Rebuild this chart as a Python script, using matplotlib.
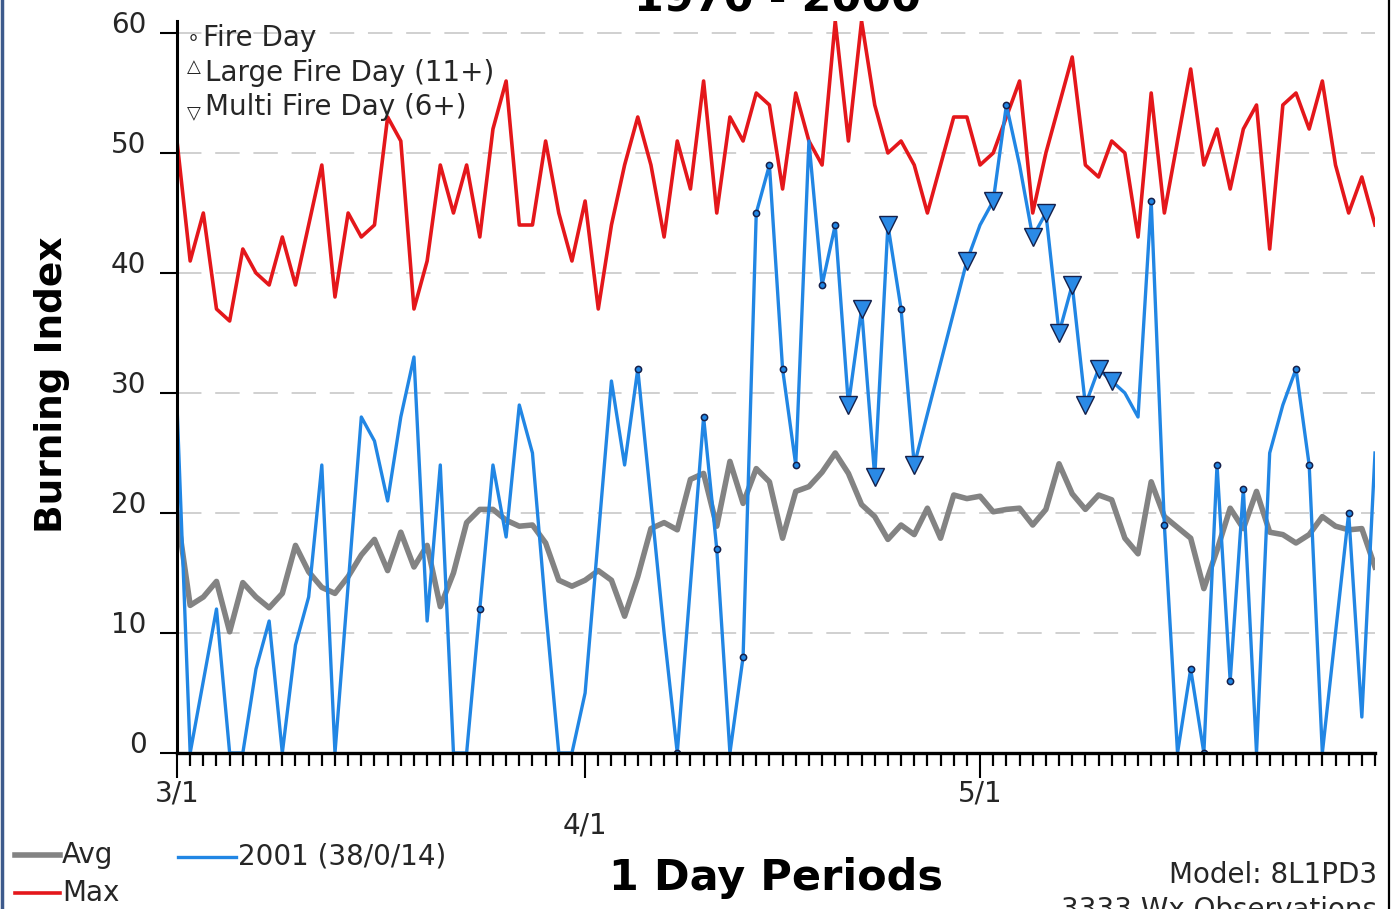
import matplotlib
matplotlib.use('Agg')
import matplotlib.pyplot as plt
from matplotlib.ticker import MultipleLocator, FixedLocator
from matplotlib.lines import Line2D

# Burning Index, 3/1 - 5/31, one value per day
max_bi = [51, 41, 45, 37, 36, 42, 40, 39, 43, 39,
          44, 49, 38, 45, 43, 44, 53, 51, 37, 41,
          49, 45, 49, 43, 52, 56, 44, 44, 51, 45,
          41, 46, 37, 44, 49, 53, 49, 43, 51, 47,
          56, 45, 53, 51, 55, 54, 47, 55, 51, 49,
          61, 51, 61, 54, 50, 51, 49, 45, 49, 53,
          53, 49, 50, 53, 56, 45, 50, 54, 58, 49,
          48, 51, 50, 43, 55, 45, 51, 57, 49, 52,
          47, 52, 54, 42, 54, 55, 52, 56, 49, 45,
          48, 44]

avg_bi = [20, 12.3, 13, 14.3, 10.1, 14.2, 13, 12.1, 13.3, 17.3,
          15.1, 13.8, 13.3, 14.7, 16.5, 17.8, 15.2, 18.4, 15.5, 17.3,
          12.2, 15, 19.2, 20.3, 20.3, 19.4, 18.9, 19, 17.5, 14.4,
          13.9, 14.4, 15.2, 14.4, 11.4, 14.7, 18.7, 19.2, 18.6, 22.8,
          23.3, 18.9, 24.3, 20.8, 23.7, 22.6, 17.9, 21.8, 22.2, 23.4,
          25, 23.3, 20.7, 19.7, 17.8, 19, 18.2, 20.4, 17.9, 21.5,
          21.2, 21.4, 20.1, 20.3, 20.4, 19, 20.3, 24.1, 21.6, 20.3,
          21.5, 21.1, 17.9, 16.6, 22.6, 19.7, 18.8, 17.9, 13.7, 16.9,
          20.4, 18.7, 21.8, 18.4, 18.2, 17.5, 18.2, 19.7, 18.9, 18.6,
          18.7, 15.5]

# 2001 season, None = no observation that day
bi_2001 = [29, 0, 6, 12, 0, 0, 7, 11, 0, 9,
           13, 24, 0, 14, 28, 26, 21, 28, 33, 11,
           24, 0, 0, 12, 24, 18, 29, 25, 12, 0,
           0, 5, 18, 31, 24, 32, 21, 10, 0, 14,
           28, 17, 0, 8, 45, 49, 32, 24, 51, 39,
           44, 29, 37, 23, 44, 37, 24, None, None, None,
           41, 44, 46, 54, 49, 43, 45, 35, 39, 29,
           32, 31, 30, 28, 46, 19, 0, 7, 0, 24,
           6, 22, 0, 25, 29, 32, 24, 0, 10, 20,
           3, 25]

fire_days = [23, 35, 38, 40, 41, 43, 44, 45, 46, 47, 49, 50, 55,
             63, 74, 75, 77, 78, 79, 80, 81, 85, 86, 89]
multi_fire_days = [51, 52, 53, 54, 56, 60, 62, 65, 66, 67, 68, 69, 70, 71]

month_ticks = [0, 31, 61]
month_labels = ['3/1', '\n4/1', '5/1']
y_ticks = [0, 10, 20, 30, 40, 50, 60]

W, H = 1395, 909
GREY = '#838383'
RED = '#e4171b'
BLUE = '#2186e4'
NAVY = '#15204a'
TXT = '#262626'


def fx(x):
    return x / W


def fy(y):
    return 1 - y / H


fig = plt.figure(figsize=(W / 100, H / 100), dpi=100)
fig.patch.set_facecolor('white')
ax = fig.add_axes([fx(177), fy(753), fx(1375) - fx(177), fy(21) - fy(753)])

days = list(range(len(max_bi)))
days_2001 = [d for d, v in enumerate(bi_2001) if v is not None]
vals_2001 = [v for v in bi_2001 if v is not None]

ax.plot(days, avg_bi, color=GREY, lw=4.0, zorder=3, solid_joinstyle='round')
ax.plot(days, max_bi, color=RED, lw=2.6, zorder=4)
ax.plot(days_2001, vals_2001, color=BLUE, lw=2.4, zorder=5)

ax.plot(fire_days, [bi_2001[d] for d in fire_days], ls='none', marker='o',
        ms=4.5, mfc=BLUE, mec=NAVY, mew=1.1, zorder=6)
ax.plot(multi_fire_days, [bi_2001[d] for d in multi_fire_days], ls='none',
        marker='v', ms=13, mfc='#2a8ae6', mec=NAVY, mew=1.0, zorder=6)

ax.set_xlim(0, 91)
ax.set_ylim(0, 61)

for s in ['top', 'right']:
    ax.spines[s].set_visible(False)
ax.spines['left'].set_linewidth(2.2)
ax.spines['bottom'].set_linewidth(2.4)
ax.spines['left'].set_zorder(7)
ax.spines['bottom'].set_zorder(7)

ax.yaxis.set_major_locator(FixedLocator(y_ticks))
ax.set_yticklabels([str(t) for t in y_ticks])
ax.tick_params(axis='y', direction='out', length=12, width=1.5,
               pad=10, labelsize=20, labelcolor=TXT)
plt.setp(ax.get_yticklabels(), va='baseline')

ax.xaxis.set_major_locator(FixedLocator(month_ticks))
ax.set_xticklabels(month_labels)
ax.xaxis.set_minor_locator(MultipleLocator(1))
ax.tick_params(axis='x', which='major', direction='out', length=18,
               width=1.5, pad=1, labelsize=20, labelcolor=TXT)
ax.tick_params(axis='x', which='minor', direction='out', length=9, width=1.6)

ax.yaxis.grid(True, color='#c4c4c4', lw=1.1, ls=(0, (16, 9)))
ax.set_axisbelow(True)

# marker key in the plot corner
fig.text(fx(193), fy(38), '\u2218', fontsize=15, color=TXT, ha='center', va='center')
fig.text(fx(203), fy(38), 'Fire Day', fontsize=20, color=TXT, va='center')
fig.text(fx(194), fy(67), '\u25b3', fontsize=13, color=TXT, ha='center', va='center')
fig.text(fx(205), fy(73), 'Large Fire Day (11+)', fontsize=20, color=TXT, va='center')
fig.text(fx(194), fy(113), '\u25bd', fontsize=13, color=TXT, ha='center', va='center')
fig.text(fx(205), fy(107), 'Multi Fire Day (6+)', fontsize=20, color=TXT, va='center')

# series key below the axis
fig.add_artist(Line2D([fx(15), fx(60)], [fy(855), fy(855)], color=GREY, lw=4.0))
fig.text(fx(62), fy(855), 'Avg', fontsize=20, color=TXT, va='center')
fig.add_artist(Line2D([fx(15), fx(60)], [fy(893), fy(893)], color=RED, lw=2.6))
fig.text(fx(62), fy(893), 'Max', fontsize=20, color=TXT, va='center')
fig.add_artist(Line2D([fx(178), fx(236)], [fy(857), fy(857)], color=BLUE, lw=2.4))
fig.text(fx(238), fy(857), '2001 (38/0/14)', fontsize=20, color=TXT, va='center')

fig.text(fx(52), fy(385), 'Burning Index', fontsize=27, fontweight='bold',
         rotation=90, ha='center', va='center', color='black')
fig.text(fx(776), fy(878), '1 Day Periods', fontsize=31, fontweight='bold',
         ha='center', va='center', color='black')
fig.text(fx(778), fy(12), '1970 - 2000', fontsize=31, fontweight='bold',
         ha='center', va='baseline', color='black')
fig.text(fx(1377), fy(875), 'Model: 8L1PD3', fontsize=20, color=TXT,
         ha='right', va='center')
fig.text(fx(1377), fy(896), '3333 Wx Observations', fontsize=20, color=TXT,
         ha='right', va='top')

# window frame edges
fig.add_artist(Line2D([fx(1.5), fx(1.5)], [0, 1], color='#3d5a8c', lw=2.5))
fig.add_artist(Line2D([fx(1389), fx(1389)], [0, 1], color='black', lw=1.6))

fig.savefig('out.png', dpi=100)
